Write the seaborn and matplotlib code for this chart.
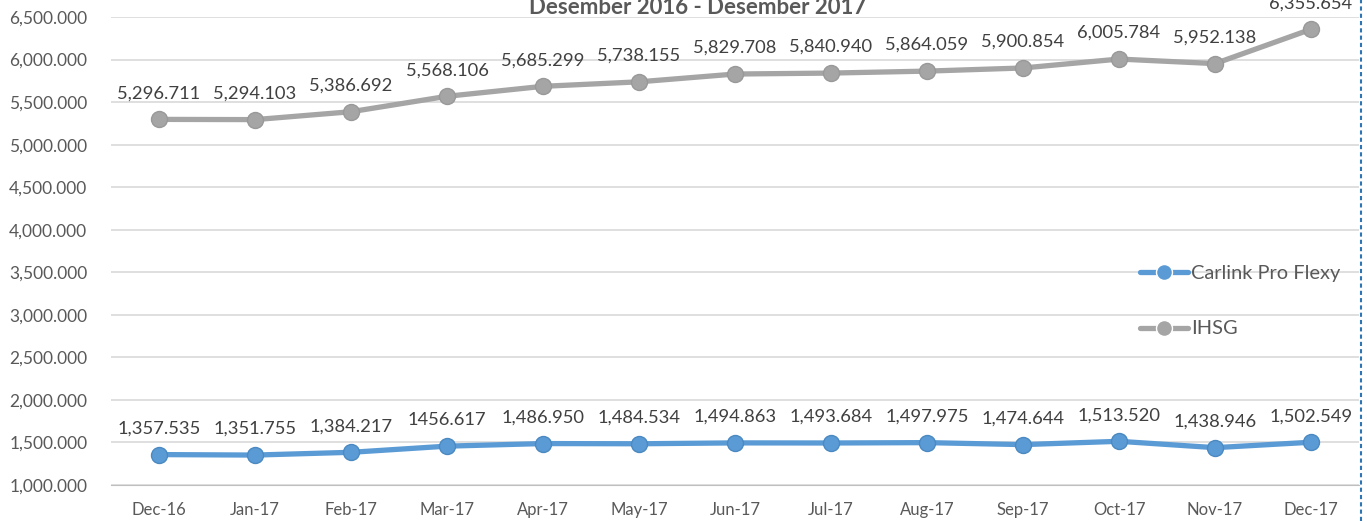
import pandas as pd
import matplotlib.pyplot as plt
import seaborn as sns

# -------------------------------
# Data
# -------------------------------
months = ["Dec-16", "Jan-17", "Feb-17", "Mar-17", "Apr-17", "May-17", "Jun-17",
          "Jul-17", "Aug-17", "Sep-17", "Oct-17", "Nov-17", "Dec-17"]
carlink = [1357.535, 1351.755, 1384.217, 1456.617, 1486.950, 1484.534, 1494.863,
           1493.684, 1497.975, 1474.644, 1513.520, 1438.946, 1502.549]
carlink_labels = ["1,357.535", "1,351.755", "1,384.217", "1456.617", "1,486.950",
                  "1,484.534", "1,494.863", "1,493.684", "1,497.975", "1,474.644",
                  "1,513.520", "1,438.946", "1,502.549"]
ihsg = [5296.711, 5294.103, 5386.692, 5568.106, 5685.299, 5738.155, 5829.708,
        5840.940, 5864.059, 5900.854, 6005.784, 5952.138, 6355.654]
title = "Desember 2016 - Desember 2017"

df = pd.DataFrame({
    "idx": list(range(len(months))) * 2,
    "value": carlink + ihsg,
    "series": ["Carlink Pro Flexy"] * len(months) + ["IHSG"] * len(months),
})

# -------------------------------
# Plot
# -------------------------------
sns.set_style("white")
plt.rcParams["font.family"] = ["Lato", "DejaVu Sans"]

fig = plt.figure(figsize=(13.67, 5.21), dpi=100)
ax = fig.add_axes([111 / 1367, 1 - 485 / 521, (1359 - 111) / 1367, (485 - 17) / 521])

palette = {"Carlink Pro Flexy": "#5B9BD5", "IHSG": "#A5A5A5"}
sns.lineplot(data=df, x="idx", y="value", hue="series", palette=palette,
             marker="o", markersize=11.5, linewidth=3.8, markeredgewidth=1,
             ax=ax, legend=True, zorder=3)
for line, c in zip(ax.lines, ["#4A89C2", "#999999"]):
    line.set_markeredgecolor(c)

label_color = "#404040"
for i, (v, lab) in enumerate(zip(carlink, carlink_labels)):
    ax.annotate(lab, (i, v), xytext=(0, 13), textcoords="offset points",
                ha="center", va="bottom", fontsize=13.2, color=label_color)
for i, v in enumerate(ihsg):
    ax.annotate(f"{v:,.3f}", (i, v), xytext=(0, 13), textcoords="offset points",
                ha="center", va="bottom", fontsize=13.2, color=label_color,
                annotation_clip=False)

ax.set_xlim(-0.5, len(months) - 0.5)
ax.set_ylim(1000, 6500)
ax.set_yticks(range(1000, 6501, 500))
ax.set_yticklabels([f"{t:,}.000" for t in range(1000, 6501, 500)])
ax.set_xticks(range(len(months)))
ax.set_xticklabels(months)
ax.set_xticks([i - 0.5 for i in range(len(months) + 1)], minor=True)
ax.tick_params(axis="x", which="major", length=0, pad=12, labelsize=12, colors="#595959")
ax.tick_params(axis="x", which="minor", length=6, color="#BFBFBF", width=1)
ax.tick_params(axis="y", length=0, pad=17, labelsize=12.5, colors="#595959")
ax.set_xlabel("")
ax.set_ylabel("")
ax.grid(axis="y", color="#D9D9D9", linewidth=1.2, zorder=0)
ax.set_axisbelow(True)
for s in ["top", "right", "left"]:
    ax.spines[s].set_visible(False)
ax.spines["bottom"].set_color("#BFBFBF")
ax.spines["bottom"].set_zorder(1)

ax.legend(title=None, frameon=False, loc="center left",
          bbox_to_anchor=(1122 / 1367, 1 - 301 / 521), bbox_transform=fig.transFigure,
          fontsize=14.4, labelcolor="#595959", handlelength=2.4, handletextpad=0.15,
          labelspacing=1.95, markerscale=1)

fig.text(698 / 1367, 1 - 14 / 521, title, ha="center", va="baseline",
         fontsize=16, fontweight="bold", color="#595959")

# dashed border line at right edge
fig.add_artist(plt.Line2D([1361 / 1367, 1361 / 1367], [0, 1], transform=fig.transFigure,
                          color="#2E75B6", linestyle=(0, (2, 1.5)), linewidth=1.5))

fig.savefig("out.png", dpi=100)
